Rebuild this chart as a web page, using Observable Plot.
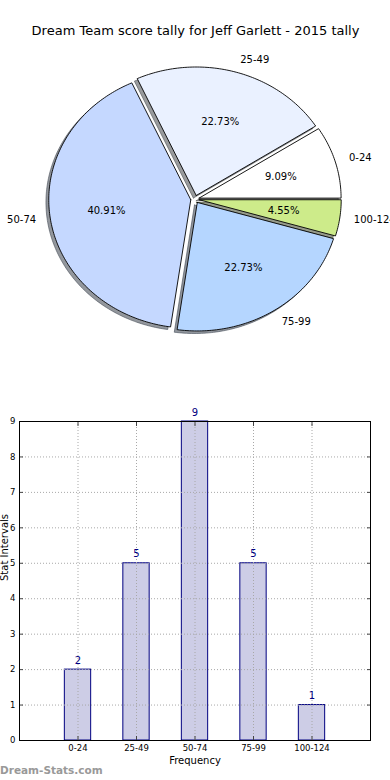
<!DOCTYPE html>
<html><head><meta charset="utf-8">
<script src="https://cdn.jsdelivr.net/npm/d3@7"></script>
<script src="https://cdn.jsdelivr.net/npm/@observablehq/plot@0.6"></script>
<style>
body{margin:0;background:#fff;width:390px;height:780px;position:relative;overflow:hidden;font-family:"DejaVu Sans",sans-serif}
#pie{position:absolute;left:0;top:0}
#bar{position:absolute;left:0;top:400px}
#wm{position:absolute;left:0;top:763px;font:bold 10.5px "DejaVu Sans",sans-serif;color:#999;line-height:14px}
svg{font-family:"DejaVu Sans",sans-serif;overflow:visible}
</style></head><body>
<div id="pie"></div><div id="bar"></div><div id="wm">Dream-Stats.com</div>
<script>
const title = "Dream Team score tally for Jeff Garlett - 2015 tally";
const categories = ["0-24", "25-49", "50-74", "75-99", "100-124"];
const counts = [2, 5, 9, 5, 1];
const explode = [0.03, 0.03, 0.03, 0.03, 0.03];
const sliceColors = ["#ffffff", "#eaf1ff", "#c5d8ff", "#b5d6ff", "#cdeb8a"];
const yTicks = [0, 1, 2, 3, 4, 5, 6, 7, 8, 9];
const xLabel = "Frequency";
const yLabel = "Stat Intervals";

// ---------- Pie ----------
const total = d3.sum(counts);
let acc = 0;
const slices = categories.map((c, i) => {
  const a0 = acc / total * 360; acc += counts[i]; const a1 = acc / total * 360;
  const am = (a0 + a1) / 2 * Math.PI / 180;
  return {cat: c, i, a0, a1, am, ox: explode[i] * Math.cos(am), oy: explode[i] * Math.sin(am),
          pct: (counts[i] / total * 100).toFixed(2) + "%", color: sliceColors[i]};
});
function outline(s, dx = 0, dy = 0) {
  const pts = [{x: s.ox + dx, y: s.oy + dy}];
  const n = Math.max(4, Math.ceil(s.a1 - s.a0));
  for (let k = 0; k <= n; k++) {
    const a = (s.a0 + (s.a1 - s.a0) * k / n) * Math.PI / 180;
    pts.push({x: s.ox + dx + Math.cos(a), y: s.oy + dy + Math.sin(a)});
  }
  pts.push({x: s.ox + dx, y: s.oy + dy});
  return pts;
}
const shadeOf = c => { const r = d3.rgb(c); return d3.rgb(r.r * 0.3, r.g * 0.3, r.b * 0.3).formatHex(); };

const W = 390, H = 360, cx = 194.5, cy = 198.7, rx = 142, ry = 128.5;
const pieMarks = [];
slices.forEach(s => pieMarks.push(Plot.line(outline(s, -0.02, -0.02), {x: "x", y: "y", fill: shadeOf(s.color), stroke: shadeOf(s.color), fillOpacity: 0.55, strokeOpacity: 0.55, strokeWidth: 1, curve: "linear"})));
slices.forEach(s => pieMarks.push(Plot.line(outline(s), {x: "x", y: "y", fill: s.color, stroke: "#000", strokeWidth: 0.9, curve: "linear", strokeLinejoin: "miter"})));
const labelOpts = {
  x: d => d.ox + 1.1 * Math.cos(d.am), y: d => d.oy + 1.1 * Math.sin(d.am), text: "cat",
  fontSize: 10, fill: "#000", lineAnchor: "middle"
};
pieMarks.push(Plot.text(slices.filter(d => Math.cos(d.am) > 0), {...labelOpts, textAnchor: "start"}));
pieMarks.push(Plot.text(slices.filter(d => Math.cos(d.am) <= 0), {...labelOpts, textAnchor: "end"}));
pieMarks.push(Plot.text(slices, {
  x: d => d.ox + 0.6 * Math.cos(d.am), y: d => d.oy + 0.6 * Math.sin(d.am), text: "pct",
  fontSize: 10, fill: "#000", lineAnchor: "middle"
}));
pieMarks.push(Plot.text([title], {frameAnchor: "top", dy: 30, lineAnchor: "middle", fontSize: 13, fill: "#000"}));

const pie = Plot.plot({
  width: W, height: H, margin: 0,
  x: {domain: [-cx / rx, (W - cx) / rx], axis: null},
  y: {domain: [-(H - cy) / ry, cy / ry], axis: null},
  marks: pieMarks
});
document.getElementById("pie").append(pie);

// ---------- Bars ----------
const bars = categories.map((c, i) => ({cat: c, i, v: counts[i]}));
const halfW = 0.225;
const bar = Plot.plot({
  width: 390, height: 380,
  marginLeft: 19, marginRight: 20, marginTop: 21, marginBottom: 40,
  style: {fontSize: "8.5px", color: "#000"},
  x: {domain: [-1, 5]},
  y: {domain: [0, 9]},
  marks: [
    Plot.rectY(bars, {x1: d => d.i - halfW, x2: d => d.i + halfW, y1: 0, y2: "v", fill: "#cdcde6", stroke: "#000080", strokeWidth: 1}),
    Plot.gridX({ticks: bars.map(d => d.i), stroke: "#a8a8a8", strokeOpacity: 1, strokeDasharray: "1,2"}),
    Plot.gridY({ticks: yTicks, stroke: "#a8a8a8", strokeOpacity: 1, strokeDasharray: "1,2"}),
    Plot.text(bars, {x: "i", y: "v", text: d => String(d.v), dy: -9, fill: "#000080", fontSize: 10, lineAnchor: "middle"}),
    Plot.axisX({ticks: bars.map(d => d.i), tickFormat: i => categories[i], tickSize: -4, tickPadding: 8.5, label: null, fontSize: 8.5, stroke: "#444"}),
    Plot.axisX({anchor: "top", ticks: bars.map(d => d.i), tickFormat: () => "", tickSize: -4, label: null, stroke: "#444"}),
    Plot.axisY({ticks: yTicks, tickSize: -4, tickPadding: 8, label: null, fontSize: 8.5, stroke: "#444"}),
    Plot.axisY({anchor: "right", ticks: yTicks, tickFormat: () => "", tickSize: -4, label: null, stroke: "#444"}),
    Plot.frame({stroke: "#000", strokeWidth: 1}),
    Plot.text([xLabel], {frameAnchor: "bottom", dy: 20.7, lineAnchor: "middle", fontSize: 10, fill: "#000"}),
    Plot.text([yLabel], {frameAnchor: "left", dx: -15, rotate: -90, lineAnchor: "middle", fontSize: 10, fill: "#000"})
  ]
});
document.getElementById("bar").append(bar);
</script>
</body></html>
